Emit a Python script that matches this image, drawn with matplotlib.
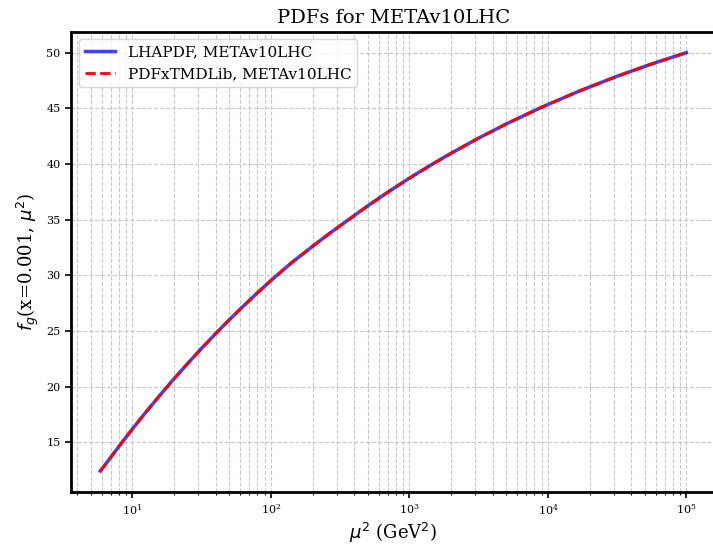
import matplotlib
matplotlib.use("Agg")
import matplotlib.pyplot as plt

# Gluon PDF at x = 0.001 versus factorisation scale mu^2 (GeV^2)
mu2 = [5.87, 7.0, 8.3, 10, 12.6, 15.8, 20, 25, 31.6, 40, 50, 63, 79, 100,
       141, 200, 270, 363, 500, 700, 1000, 1450, 2000, 3160, 5000, 9100,
       17000, 31600, 56000, 100000]
fg_lhapdf = [12.4, 13.66, 14.88, 16.18, 17.74, 19.21, 20.70, 22.05, 23.43,
             24.76, 25.99, 27.20, 28.36, 29.52, 31.12, 32.60, 33.83, 34.98,
             36.23, 37.47, 38.72, 39.95, 40.96, 42.32, 43.59, 45.12, 46.57,
             47.88, 48.98, 50.0]
fg_pdfxtmd = list(fg_lhapdf)

label_lhapdf = "LHAPDF, METAv10LHC"
label_pdfxtmd = "PDFxTMDLib, METAv10LHC"
title = "PDFs for METAv10LHC"

plt.rcParams["font.family"] = ["DejaVu Serif"]

fig = plt.figure(figsize=(7.13, 5.45), dpi=100)
ax = fig.add_axes([0.0996, 0.0972, 0.9042, 0.8446])

ax.plot(mu2, fg_lhapdf, color="blue", lw=2.5, alpha=0.75, label=label_lhapdf)
ax.plot(mu2, fg_pdfxtmd, color="red", lw=2.0, ls="--", label=label_pdfxtmd)
ax.set_xscale("log")

ax.grid(True, which="both", ls="--", lw=0.8, color="#c8c8c8")
ax.set_title(title, fontsize=14)
ax.set_xlabel(r"$\mu^2$ (GeV$^2$)", fontsize=13, labelpad=3)
ax.set_ylabel(r"$f_g$(x=0.001, $\mu^2$)", fontsize=13)
ax.tick_params(axis="both", which="major", labelsize=8, length=4, width=1.2)
ax.tick_params(axis="x", which="minor", length=2.5, width=0.8)
for sp in ax.spines.values():
    sp.set_linewidth(2.0)

ax.legend(loc="upper left", fontsize=11, handlelength=2.0)

fig.savefig("out.png", dpi=100)
